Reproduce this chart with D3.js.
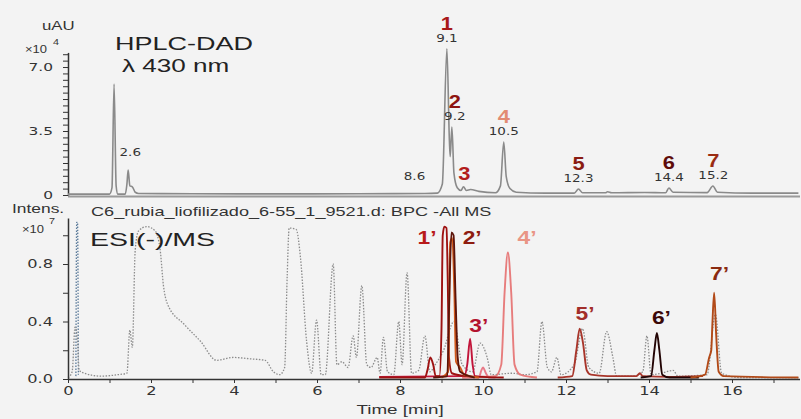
<!DOCTYPE html>
<html>
<head>
<meta charset="utf-8">
<script src="https://cdn.jsdelivr.net/npm/d3@7"></script>
<style>
  body { margin: 0; background: #f3f3f3; }
  svg { display: block; }
</style>
</head>
<body>
<div id="chart"></div>
<script>
// ---- data (time in min, intensity in axis units) ----
// HPLC-DAD trace, uAU x10^4
var dadTrace = [[0,0.05],[1.0,0.05],[1.06,0.4],[1.11,6.07],[1.16,0.5],[1.2,0.05],[1.38,0.05],[1.42,0.6],[1.45,1.37],
  [1.49,0.5],[1.55,0.45],[1.62,0.15],[1.7,0.08],[3,0.07],[5,0.06],[7,0.07],[8.6,0.08],[8.9,0.1],[9.02,0.6],[9.13,8.0],
  [9.19,3.0],[9.21,2.1],[9.25,3.72],[9.3,1.2],[9.38,0.4],[9.47,0.25],[9.53,0.45],[9.6,0.25],[9.7,0.3],[9.9,0.2],
  [10.3,0.12],[10.42,0.5],[10.5,2.9],[10.56,1.0],[10.65,0.35],[10.8,0.15],[11.5,0.1],[12.2,0.1],[12.3,0.33],[12.4,0.12],
  [12.95,0.12],[13.0,0.18],[13.1,0.12],[13.9,0.14],[14.4,0.12],[14.48,0.38],[14.58,0.15],[15.4,0.13],[15.54,0.49],
  [15.65,0.15],[16.5,0.1],[17.6,0.1]];

// ESI(-)/MS base peak chromatogram, x10^7 (dotted)
var bpcTrace = [[0,0.01],[0.1,0.05],[0.17,0.36],[0.22,0.3],[0.27,0.06],[0.4,0.04],[0.8,0.02],[1.2,0.03],[1.42,0.04],
  [1.49,0.34],[1.55,0.22],[1.62,0.9],[1.7,1.03],[1.9,1.06],[2.1,1.03],[2.22,0.9],[2.3,0.65],[2.4,0.52],[2.8,0.38],
  [3.2,0.26],[3.58,0.13],[3.98,0.15],[4.4,0.14],[4.75,0.13],[4.95,0.05],[5.1,0.03],[5.22,0.08],[5.28,0.7],[5.33,1.05],
  [5.5,1.04],[5.6,0.85],[5.75,0.26],[5.87,0.04],[5.99,0.41],[6.1,0.03],[6.2,0.03],[6.39,0.8],[6.48,0.1],[6.6,0.12],
  [6.75,0.08],[6.87,0.3],[6.95,0.15],[7.08,0.65],[7.2,0.1],[7.3,0.08],[7.45,0.15],[7.52,0.04],[7.6,0.29],[7.7,0.05],
  [7.85,0.03],[7.97,0.4],[8.05,0.1],[8.17,0.74],[8.28,0.04],[8.45,0.06],[8.6,0.3],[8.72,0.05],[8.85,0.1],[9.05,0.2],
  [9.3,0.4],[9.5,0.1],[9.75,0.05],[9.93,0.25],[10.1,0.15],[10.2,0.03],[10.7,0.04],[11.0,0.03],[11.3,0.05],[11.42,0.4],
  [11.55,0.08],[11.65,0.05],[11.78,0.15],[11.88,0.03],[12.2,0.1],[12.4,0.35],[12.55,0.08],[12.8,0.04],[12.98,0.33],
  [13.13,0.15],[13.22,0.02],[13.6,0.02],[13.85,0.05],[13.95,0.3],[14.05,0.03],[14.3,0.04],[14.58,0.06],[14.7,0.02],
  [15.4,0.03],[15.6,0.45],[15.75,0.04],[16.2,0.01],[17.6,0.01]];
var solventSpike = [[0.19,0.02],[0.21,1.09],[0.23,1.09],[0.25,0.03]];

// extracted ion chromatograms (solid)
var eic1 = [[7.5,0.01],[8.6,0.01],[8.66,0.06],[8.73,0.15],[8.8,0.1],[8.86,0.02],[8.95,0.02],[9.0,0.35],[9.03,1.0],
  [9.07,1.06],[9.12,1.05],[9.15,0.7],[9.18,0.15],[9.25,0.04],[9.6,0.02],[10.5,0.01]];
var eic2 = [[8.8,0.01],[9.14,0.02],[9.19,0.6],[9.24,1.02],[9.29,1.0],[9.34,0.55],[9.39,0.15],[9.45,0.05],[9.8,0.01]];
var eic2b = [[9.0,0.01],[9.16,0.05],[9.21,0.95],[9.26,0.98],[9.31,0.6],[9.35,0.12],[9.45,0.08],[9.55,0.03],[9.9,0.01]];
var eic3 = [[7.5,0.015],[9.55,0.02],[9.62,0.1],[9.69,0.28],[9.75,0.1],[9.81,0.02],[10.1,0.015]];
var eicPink = [[9.5,0.01],[9.9,0.01],[9.96,0.06],[10.0,0.08],[10.07,0.04],[10.15,0.01],[10.3,0.01]];
var eic4 = [[9.5,0.01],[10.3,0.02],[10.44,0.1],[10.52,0.6],[10.6,0.88],[10.68,0.6],[10.76,0.1],[10.9,0.03],[11.3,0.01]];
var eic5 = [[11.8,0.01],[12.15,0.02],[12.25,0.2],[12.33,0.35],[12.41,0.25],[12.5,0.06],[12.6,0.03],[13.0,0.02],
  [13.7,0.02],[13.78,0.04],[13.85,0.02],[14.5,0.015],[15.3,0.02]];
var eic6 = [[13.8,0.01],[14.05,0.02],[14.13,0.2],[14.19,0.32],[14.25,0.2],[14.32,0.03],[14.5,0.01],[15.2,0.01]];
var eic7 = [[15.0,0.01],[15.35,0.03],[15.45,0.15],[15.5,0.2],[15.53,0.4],[15.57,0.6],[15.62,0.3],[15.68,0.05],
  [15.8,0.02],[17.6,0.01]];

// peak annotations: [time, intensity, name, retention label]
var dadPeaks = [[9.13,8.0,"1","9.1"],[9.32,3.72,"2","9.2"],[9.55,0.45,"3",""],[10.5,2.9,"4","10.5"],
  [12.3,0.33,"5","12.3"],[14.48,0.38,"6","14.4"],[15.55,0.49,"7","15.2"]];
var dadMinor = [[1.5,1.37,"2.6"],[8.35,0.08,"8.6"]];
// label anchors [time, intensity, text]
var msPeaks = [[8.65,0.94,"1\u2019"],[9.74,0.94,"2\u2019"],[9.9,0.33,"3\u2019"],[11.06,0.94,"4\u2019"],
  [12.46,0.41,"5\u2019"],[14.3,0.38,"6\u2019"],[15.7,0.69,"7\u2019"]];

var dadColors = ["#a81818","#8e1410","#b21c1c","#e28b72","#8a1c12","#5e0c0a","#9a2c12"];
var msColors = ["#b81a1a","#8e1c10","#b3122e","#e99585","#a22e2a","#3a0808","#8a2a10"];

// ---- layout ----
var W = 801, H = 419;
var svg = d3.select("#chart").append("svg").attr("width", W).attr("height", H);
svg.append("rect").attr("width", W).attr("height", H).attr("fill", "#f3f3f3");

var x = d3.scaleLinear().domain([0, 17.6]).range([68, 798.4]);
var yTop = d3.scaleLinear().domain([0, 7.8]).range([195, 52.4]);
var yBot = d3.scaleLinear().domain([0, 1.12]).range([379, 218]);

var sans = "Liberation Sans, Arial, sans-serif";
var tickFont = "DejaVu Sans, sans-serif";

function stext(g, px, py, str, size, opts) {
  opts = opts || {};
  return g.append("text")
    .attr("transform", "translate(" + px + "," + py + ") scale(" + (opts.sx || 1.45) + ",1)")
    .attr("text-anchor", opts.anchor || "start")
    .style("font-family", opts.family || sans)
    .style("font-size", size + "px")
    .style("font-weight", opts.weight || "normal")
    .style("fill", opts.fill || "#222")
    .text(str);
}

// ---- top panel ----
var topG = svg.append("g");
topG.append("line").attr("x1", 68).attr("x2", 800).attr("y1", 196.5).attr("y2", 196.5)
  .attr("stroke", "#9a9a9a").attr("stroke-width", 2);

var yTopAxis = d3.axisLeft(yTop)
  .tickValues(d3.range(0, 7.8, 0.35))
  .tickSize(5).tickSizeOuter(0)
  .tickFormat(function (d) {
    if (Math.abs(d) < 1e-6) return "0";
    if (Math.abs(d - 3.5) < 1e-6 || Math.abs(d - 7) < 1e-6) return d3.format(".1f")(d);
    return "";
  });
topG.append("g").attr("transform", "translate(68,0)").call(yTopAxis)
  .call(function (g) {
    g.select(".domain").attr("stroke", "#333").attr("stroke-width", 1.5);
    g.selectAll(".tick line").attr("stroke", "#333");
    g.selectAll("text").attr("x", 0).attr("dy", "0.32em")
      .attr("transform", "translate(-15,0) scale(1.4,1)")
      .style("font-family", tickFont).style("font-size", "11px").style("fill", "#333");
  });

topG.append("path").datum(dadTrace)
  .attr("fill", "none").attr("stroke", "#8a8a8a").attr("stroke-width", 1.6)
  .attr("d", d3.line().curve(d3.curveMonotoneX)
    .x(function (d) { return x(d[0]); }).y(function (d) { return yTop(d[1]); }));

stext(topG, 42, 30, "uAU", 12, {sx: 1.4, fill: "#333"});
stext(topG, 25, 53, "\u00d710", 10, {sx: 1.3, fill: "#333"});
stext(topG, 53, 45, "4", 9, {sx: 1.2, fill: "#333"});
stext(topG, 115, 50, "HPLC-DAD", 18, {sx: 1.5});
stext(topG, 122, 72, "\u03bb 430 nm", 18, {sx: 1.45});

dadPeaks.forEach(function (p, i) {
  var px = x(p[0]), py = yTop(p[1]);
  if (p[3]) stext(topG, px, py - 7, p[3], 10, {anchor: "middle", sx: 1.35, family: tickFont, fill: "#333"});
  stext(topG, px, py - (p[3] ? 19 : 7), p[2], 19, {anchor: "middle", sx: 1.15, weight: "bold", fill: dadColors[i]});
});
dadMinor.forEach(function (p) {
  stext(topG, x(p[0]), yTop(p[1]) - 14, p[2], 10, {anchor: "middle", sx: 1.35, family: tickFont, fill: "#333"});
});

// ---- bottom panel ----
var bot = svg.append("g");
var line = d3.line().curve(d3.curveMonotoneX)
  .x(function (d) { return x(d[0]); }).y(function (d) { return yBot(d[1]); });

bot.append("path").datum(solventSpike).attr("fill", "none").attr("stroke", "#5a7a9a")
  .attr("stroke-width", 1.3).attr("stroke-dasharray", "1.5,1.5").attr("d", line);
bot.append("path").datum(bpcTrace).attr("fill", "none").attr("stroke", "#8c8c8c")
  .attr("stroke-width", 1.3).attr("stroke-dasharray", "1.5,1.5").attr("d", line);

var eics = [[eic3, "#c2153a"], [eicPink, "#e87a88"], [eic4, "#e77c7c"], [eic1, "#9e1212"],
  [eic2b, "#d25a1c"], [eic2, "#5c140a"], [eic5, "#a8352a"], [eic6, "#220404"], [eic7, "#b24a18"]];
eics.forEach(function (e) {
  bot.append("path").datum(e[0]).attr("fill", "none").attr("stroke", e[1])
    .attr("stroke-width", 1.9).attr("stroke-linejoin", "round").attr("d", line);
});

var xAxis = d3.axisBottom(x).tickValues(d3.range(0, 18, 1)).tickSize(4).tickSizeOuter(0)
  .tickFormat(function (d) { return d % 2 === 0 ? d : ""; });
bot.append("g").attr("transform", "translate(0,379)").call(xAxis)
  .call(function (g) {
    g.select(".domain").attr("stroke", "#333").attr("stroke-width", 1.5).attr("d", "M68,0.5H800");
    g.selectAll(".tick line").attr("stroke", "#333");
    g.selectAll("text").attr("y", 0).attr("dy", 0)
      .attr("transform", "translate(0,16) scale(1.25,1)")
      .style("font-family", tickFont).style("font-size", "13px").style("fill", "#333");
  });

var yBotAxis = d3.axisLeft(yBot).tickValues([0, 0.2, 0.4, 0.6, 0.8, 1.0]).tickSize(5).tickSizeOuter(0)
  .tickFormat(function (d) { return (d === 0 || Math.abs(d - 0.4) < 1e-6 || Math.abs(d - 0.8) < 1e-6) ? d3.format(".1f")(d) : ""; });
bot.append("g").attr("transform", "translate(68,0)").call(yBotAxis)
  .call(function (g) {
    g.select(".domain").attr("stroke", "#333").attr("stroke-width", 1.5);
    g.selectAll(".tick line").attr("stroke", "#333");
    g.selectAll("text").attr("x", 0).attr("dy", "0.32em")
      .attr("transform", "translate(-15,0) scale(1.35,1)")
      .style("font-family", tickFont).style("font-size", "12px").style("fill", "#333");
  });

stext(bot, 12, 213, "Intens.", 12, {sx: 1.45, fill: "#333"});
stext(bot, 22, 233, "\u00d710", 10, {sx: 1.3, fill: "#333"});
stext(bot, 49, 224, "7", 9, {sx: 1.2, fill: "#333"});
stext(bot, 91, 216, "C6_rubia_liofilizado_6-55_1_9521.d: BPC -All MS", 12.5, {sx: 1.45, fill: "#333"});
stext(bot, 90, 246, "ESI(-)/MS", 19, {sx: 1.5, fill: "#222"});
stext(bot, 400, 414, "Time [min]", 13, {anchor: "middle", sx: 1.45, fill: "#333"});

msPeaks.forEach(function (p, i) {
  stext(bot, x(p[0]), yBot(p[1]), p[2], 19, {anchor: "middle", sx: 1.2, weight: "bold", fill: msColors[i]});
});
</script>
</body>
</html>
